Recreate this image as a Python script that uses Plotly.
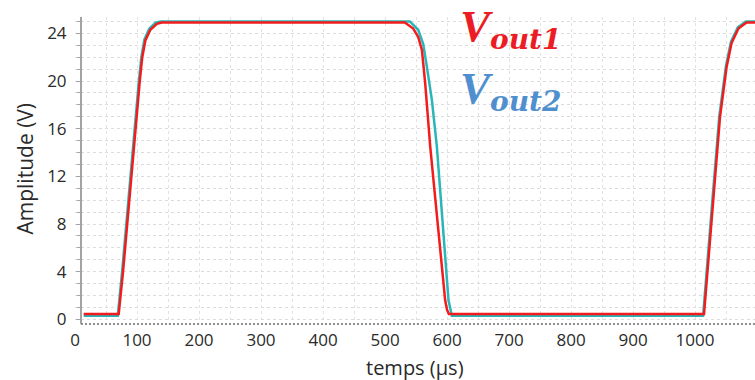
import plotly.graph_objects as go

# ---- data (time in µs, amplitude in V) ----
t_out1 = [14, 70.5, 77.5, 84, 90.5, 97.5, 104.5, 108.5, 113.5, 121.5, 132, 140,
          532, 545.5, 553.5, 559.5, 564.8, 572.9, 597, 600, 603,
          1014.5, 1029.5, 1040.3, 1051, 1059, 1070, 1083, 1097]
v_out1 = [0.45, 0.45, 4.0, 8.0, 12.0, 16.0, 20.0, 22.0, 23.4, 24.3, 24.8, 24.9,
          24.9, 24.4, 23.7, 22.6, 19.8, 14.5, 1.6, 0.8, 0.45,
          0.45, 10.0, 17.0, 21.2, 23.2, 24.4, 24.9, 24.9]

t_out2 = [14, 69, 76, 82.5, 89, 96, 103, 107, 112, 120, 130, 138,
          540, 553.5, 561.6, 567.5, 575.6, 583.6, 602.4, 607.8,
          1013, 1028, 1039, 1050, 1058, 1069, 1082, 1097]
v_out2 = [0.3, 0.3, 4.0, 8.0, 12.0, 16.0, 20.0, 22.0, 23.5, 24.4, 24.9, 25.0,
          25.0, 24.3, 23.1, 21.2, 18.4, 14.5, 1.6, 0.3,
          0.3, 10.0, 17.0, 21.3, 23.3, 24.5, 25.0, 25.0]

x_ticks = [0, 100, 200, 300, 400, 500, 600, 700, 800, 900, 1000]
y_ticks = [0, 4, 8, 12, 16, 20, 24]

fig = go.Figure()
fig.add_trace(go.Scatter(x=t_out2, y=v_out2, mode="lines", name="Vout2",
                         line=dict(color="#2ab5b8", width=2.5)))
fig.add_trace(go.Scatter(x=t_out1, y=v_out1, mode="lines", name="Vout1",
                         line=dict(color="#f21c1c", width=2.5)))


def vlabel(idx):
    return ("<span style='font-family:Liberation Serif;font-size:45px'><b><i>V</i></b></span>"
            "<sub><span style='font-size:28px'><b><i>out" + idx + "</i></b></span></sub>")


grid_col = "#dcdcdc"
fig.update_layout(
    width=755, height=380,
    margin=dict(l=75, r=0, t=17, b=56),
    plot_bgcolor="white", paper_bgcolor="white",
    showlegend=False,
    font=dict(family="Open Sans", color="#2a2a2a", size=17),
    xaxis=dict(
        range=[0, 1096.7], tickmode="array", tickvals=x_ticks,
        automargin=False,
        showline=False, zeroline=False, ticks="",
        showgrid=True, gridcolor="#e2e2e2", griddash="dot", gridwidth=1,
        minor=dict(dtick=50, showgrid=True, gridcolor="#e2e2e2", griddash="dot"),
        tickfont=dict(size=17), ticklabelstandoff=4,
    ),
    yaxis=dict(
        range=[-0.386, 25.37], tickmode="array", tickvals=y_ticks,
        anchor="free", position=0.0088, automargin=False,
        showline=True, linecolor="#a3a3a3", linewidth=2,
        ticks="outside", ticklen=4, tickcolor="#a3a3a3",
        zeroline=False,
        showgrid=True, gridcolor=grid_col, griddash="3px,3px", gridwidth=1,
        minor=dict(dtick=1, ticks="outside", ticklen=3, tickcolor="#a3a3a3",
                   showgrid=True, gridcolor=grid_col, griddash="3px,3px"),
        tickfont=dict(size=17), ticklabelstandoff=6,
    ),
    shapes=[
        dict(type="line", xref="paper", yref="paper", x0=0.0088, x1=1, y0=0, y1=0,
             line=dict(color="#8f8f8f", width=2, dash="2px,2px"), layer="above"),
        dict(type="rect", xref="paper", yref="paper", x0=0.551, x1=0.707, y0=0.648, y1=1.0,
             fillcolor="white", line=dict(width=0), layer="between"),
    ],
    annotations=[
        # axis titles
        dict(xref="paper", yref="paper", x=0.5, y=0, xanchor="center", yanchor="middle",
             yshift=-43, showarrow=False, text="temps (µs)",
             font=dict(family="Open Sans", size=20, color="#2a2a2a")),
        dict(xref="paper", yref="paper", x=0, y=0.5, xanchor="center", yanchor="middle",
             xshift=-51, yshift=2, textangle=-90, showarrow=False, text="Amplitude (V)",
             font=dict(family="Open Sans", size=21, color="#2a2a2a")),
        # curve labels
        dict(xref="paper", yref="paper", x=0.563, y=0.962, xanchor="left", yanchor="middle",
             showarrow=False, text=vlabel("1"),
             font=dict(family="DejaVu Serif", size=38, color="#ec1c24")),
        dict(xref="paper", yref="paper", x=0.563, y=0.762, xanchor="left", yanchor="middle",
             showarrow=False, text=vlabel("2"),
             font=dict(family="DejaVu Serif", size=38, color="#4f8fcf")),
    ],
)

fig.write_html("out.html", config={"displayModeBar": False},
               post_script="document.body.style.margin='0';document.body.style.overflow='hidden';")
